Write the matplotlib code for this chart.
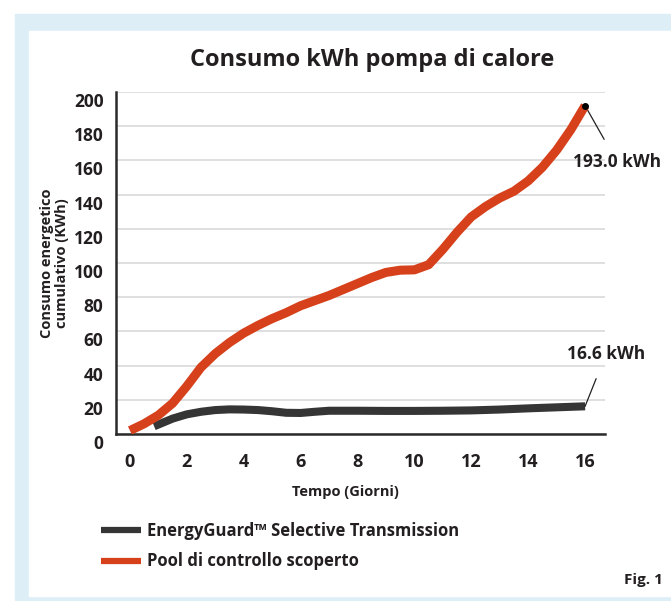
import numpy as np
import matplotlib
matplotlib.use('Agg')
import matplotlib.pyplot as plt
import matplotlib.transforms as mtransforms
from matplotlib.patches import Rectangle
from matplotlib.lines import Line2D

plt.rcParams['font.family'] = ['Open Sans', 'DejaVu Sans']
plt.rcParams['font.weight'] = 'bold'
plt.rcParams['axes.labelweight'] = 'bold'

# values (day, kWh)
days_pool = [0, 0.5, 1, 1.5, 2, 2.5, 3, 3.5, 4, 4.5, 5, 5.5, 6, 6.5, 7, 7.5, 8,
             8.5, 9, 9.5, 10, 10.5, 11, 11.5, 12, 12.5, 13, 13.5, 14, 14.5, 15, 15.5, 16]
kwh_pool = [2, 6, 11, 18, 28, 39, 47, 53.5, 59, 63.5, 67.5, 71, 75, 78, 81, 84.5, 88,
            91.5, 94.5, 95.8, 96, 99, 108, 118, 127, 133, 138, 142, 148, 156, 166, 178, 192]

days_eg = [0.85, 1.5, 2, 2.5, 3, 3.5, 4, 4.5, 5, 5.5, 6, 6.5, 7, 8, 9, 10, 11, 12, 13, 14, 15, 16]
kwh_eg = [4.5, 9, 11.5, 13, 14, 14.4, 14.3, 14, 13.3, 12.4, 12.3, 13, 13.6, 13.6, 13.5,
          13.5, 13.6, 13.8, 14.3, 15, 15.6, 16.2]

x_ticks = [0, 2, 4, 6, 8, 10, 12, 14, 16]
y_ticks = [0, 20, 40, 60, 80, 100, 120, 140, 160, 180, 200]

label_eg = 'EnergyGuard™ Selective Transmission'
label_pool = 'Pool di controllo scoperto'

red = '#d6401b'
dark = '#353535'
txt = '#231f20'

W, H = 671, 601
fig = plt.figure(figsize=(W / 100, H / 100), dpi=100)

# framed background
fig.patches.append(Rectangle((15 / W, 0), 1, 1 - 14 / H, transform=fig.transFigure,
                             color='#ddeef7', zorder=-3))
fig.patches.append(Rectangle((29 / W, 5 / H), 1, 1 - 31 / H - 5 / H, transform=fig.transFigure,
                             color='white', zorder=-2))

ax = fig.add_axes([116 / W, 1 - 434 / H, 489 / W, 342 / H])
ax.set_facecolor('none')
ax.set_zorder(2)

ax.plot(days_eg, kwh_eg, color=dark, lw=5.8, solid_capstyle='butt', solid_joinstyle='round', zorder=3)
ax.plot(days_pool, kwh_pool, color=red, lw=6.5, solid_capstyle='butt', solid_joinstyle='round', zorder=4)

ax.set_xlim(-0.49, 16.7)
ax.set_ylim(0, 200)
ax.set_xticks(x_ticks)
ax.set_yticks(y_ticks)
ax.tick_params(axis='both', length=0, colors=txt)
ax.tick_params(axis='x', labelsize=13, pad=14)
ax.tick_params(axis='y', labelsize=12.5, pad=9)
ax.grid(axis='y', color='#d9d9d9', lw=1.2, zorder=1)
ax.set_axisbelow(True)
for s in ['top', 'right']:
    ax.spines[s].set_visible(False)
for s in ['left', 'bottom']:
    ax.spines[s].set_color('#2b2b2b')
    ax.spines[s].set_linewidth(1.8)

off = mtransforms.ScaledTranslation(0, -8 / 100, fig.dpi_scale_trans)
for lab in ax.get_yticklabels():
    lab.set_transform(lab.get_transform() + off)

ax.set_xlabel('Tempo (Giorni)', fontsize=10.5, color=txt)
ax.xaxis.set_label_coords(0.47, -0.15)
ax.set_ylabel('Consumo energetico\ncumulativo (KWh)', fontsize=10.5, color=txt,
              linespacing=1.05)
ax.yaxis.set_label_coords(-0.097, 0.5)

fig.text(372 / W, 1 - 60 / H, 'Consumo kWh pompa di calore', fontsize=17,
         ha='center', va='center', color=txt)

# end-value callouts
ax.plot([days_pool[-1]], [kwh_pool[-1]], 'o', color='black', ms=4, zorder=5)
ax.annotate('193.0 kWh', xy=(days_pool[-1], kwh_pool[-1]), xytext=(617 / W, 1 - 162 / H),
            textcoords='figure fraction', fontsize=12.5, color=txt, ha='center', va='center',
            arrowprops=dict(arrowstyle='-', color=txt, lw=0.9, shrinkA=9, shrinkB=0))
ax.annotate('16.6 kWh', xy=(days_eg[-1], kwh_eg[-1]), xytext=(606 / W, 1 - 354 / H),
            textcoords='figure fraction', fontsize=12.5, color=txt, ha='center', va='center',
            arrowprops=dict(arrowstyle='-', color=txt, lw=0.9, shrinkA=10, shrinkB=0))

handles = [Line2D([], [], color=dark, lw=4.5, solid_capstyle='butt'),
           Line2D([], [], color=red, lw=4.5, solid_capstyle='butt')]
fig.legend(handles, [label_eg, label_pool], loc='upper left',
           bbox_to_anchor=(86 / W, 1 - 507 / H), frameon=False, fontsize=12,
           handlelength=2.4, handletextpad=0.35, labelspacing=0.75,
           labelcolor=txt)

fig.text(663 / W, 1 - 580 / H, 'Fig. 1', fontsize=11, ha='right', va='center', color=txt)

fig.savefig('out.png', dpi=100)
